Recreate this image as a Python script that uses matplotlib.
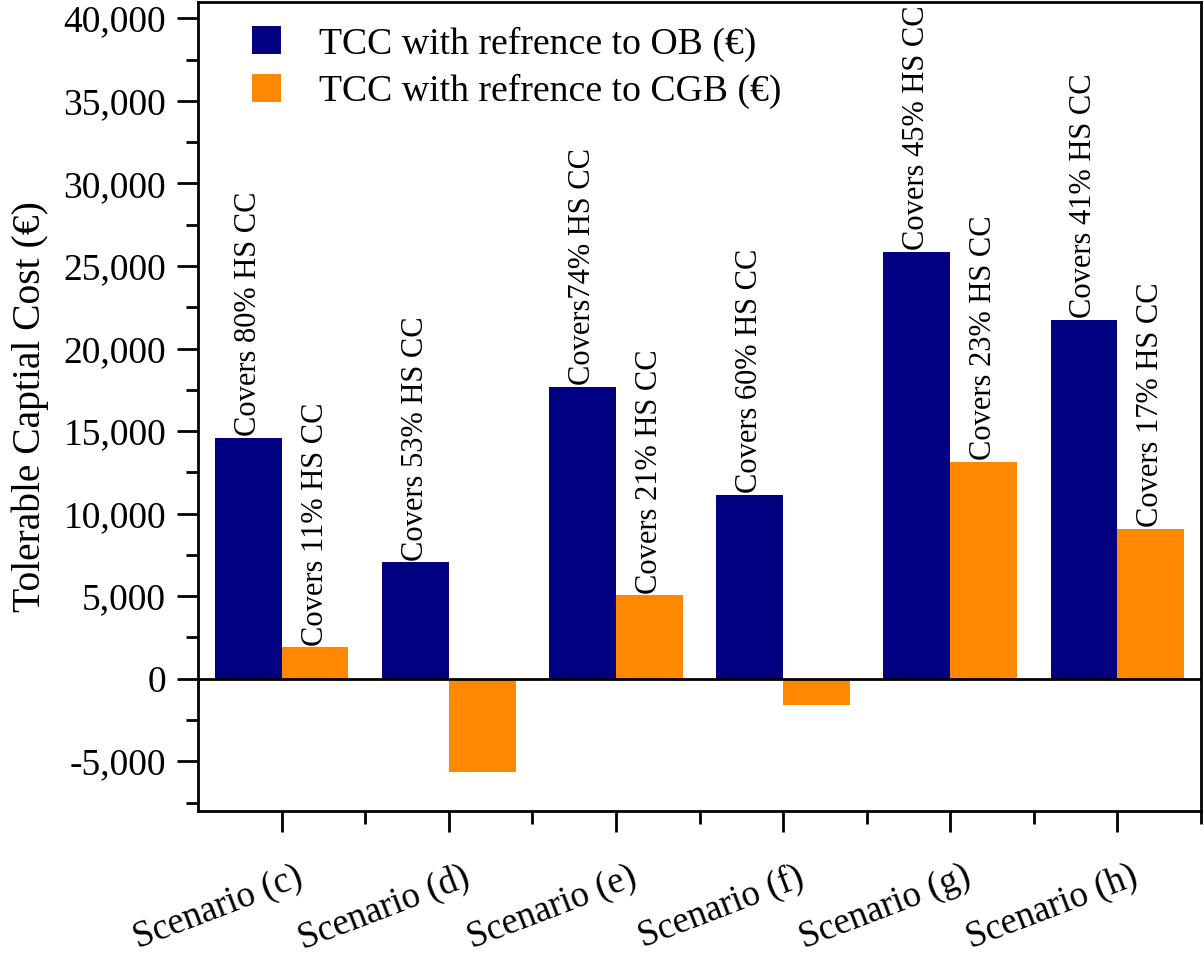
import numpy as np
import matplotlib.pyplot as plt
import matplotlib.transforms as mtransforms
from matplotlib.ticker import MultipleLocator, FuncFormatter

plt.rcParams['font.family'] = ['Liberation Serif', 'DejaVu Serif']

# data
scenarios = ['Scenario (c)', 'Scenario (d)', 'Scenario (e)',
             'Scenario (f)', 'Scenario (g)', 'Scenario (h)']
tcc_ob = [14600, 7050, 17700, 11150, 25850, 21750]
tcc_cgb = [1900, -5650, 5050, -1600, 13150, 9100]
labels_ob = ['Covers 80% HS CC', 'Covers 53% HS CC', 'Covers74% HS CC',
             'Covers 60% HS CC', 'Covers 45% HS CC', 'Covers 41% HS CC']
labels_cgb = ['Covers 11% HS CC', '', 'Covers 21% HS CC',
              '', 'Covers 23% HS CC', 'Covers 17% HS CC']

NAVY = '#000080'
ORANGE = '#FF8800'

fig = plt.figure(figsize=(12.04, 9.55), dpi=100)
ax = fig.add_axes([0.1645, 0.151, 0.833, 0.847])

x = np.arange(len(scenarios))
w = 0.4
ax.bar(x - w / 2, tcc_ob, w, color=NAVY, label='TCC with refrence to OB (€)', zorder=2)
ax.bar(x + w / 2, tcc_cgb, w, color=ORANGE, label='TCC with refrence to CGB (€)', zorder=2)

# rotated annotations above the positive bars
for xi, v, t in zip(x - w / 2, tcc_ob, labels_ob):
    if t:
        ax.text(xi, v + 100, t, rotation=90, ha='center', va='bottom', fontsize=22)
for xi, v, t in zip(x + w / 2, tcc_cgb, labels_cgb):
    if t:
        ax.text(xi, v + 100, t, rotation=90, ha='center', va='bottom', fontsize=22)

ax.axhline(0, color='black', lw=2, zorder=3)

ax.set_xlim(-0.5, 5.5)
ax.set_ylim(-8000, 41000)
ax.yaxis.set_major_locator(MultipleLocator(5000))
ax.yaxis.set_minor_locator(MultipleLocator(2500))
ax.yaxis.set_major_formatter(FuncFormatter(lambda v, p: f'{int(v):,}'))
ax.set_xticks(x)
ax.set_xticks(x + 0.5, minor=True)
ax.set_xticklabels(scenarios, rotation=21, ha='right', rotation_mode='anchor', fontsize=26.5)
ax.tick_params(axis='y', labelsize=27)
ax.tick_params(which='major', length=15, width=2, direction='out', pad=8)
ax.tick_params(which='minor', length=9, width=2, direction='out')
ax.tick_params(axis='x', which='major', pad=20)
shift = mtransforms.ScaledTranslation(13 / 100, 0, fig.dpi_scale_trans)
for lab in ax.get_xticklabels():
    lab.set_transform(lab.get_transform() + shift)
for s in ax.spines.values():
    s.set_linewidth(2)

ax.set_ylabel('Tolerable Captial Cost (€)', fontsize=28.5, labelpad=10)

ax.legend(loc='upper left', bbox_to_anchor=(0.02, 1.012), frameon=False, fontsize=27.2,
          handlelength=0.77, handleheight=0.77, handletextpad=1.0, labelspacing=0.33)

fig.savefig('out.png', dpi=100)
